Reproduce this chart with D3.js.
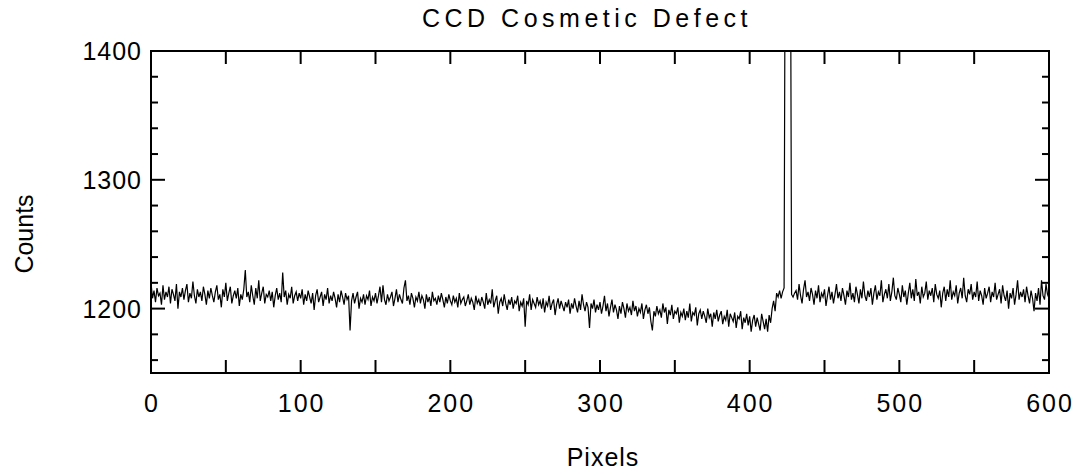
<!DOCTYPE html>
<html>
<head>
<meta charset="utf-8">
<script src="https://cdn.jsdelivr.net/npm/d3@7"></script>
<style>
  body { margin: 0; background: #fff; }
  text { font-family: "Liberation Sans", Arial, sans-serif; fill: #000; }
</style>
</head>
<body>
<svg id="chart" width="1081" height="470"></svg>
<script>
// counts per pixel (424-427 is the defect, off the top)
const counts = [
  1220,1208,1214,1205,1216,1210,1212,1203,1218,1207,1213,1209,1217,1204,1215,1211,1206,1219,1200,1213,
  1209,1216,1207,1214,1219,1205,1212,1208,1221,1210,1204,1215,1209,1213,1206,1217,1211,1203,1214,1208,
  1216,1210,1205,1213,1218,1207,1211,1201,1215,1209,1220,1206,1212,1217,1204,1210,1214,1208,1216,1202,
  1211,1207,1215,1230,1209,1213,1205,1218,1210,1203,1216,1208,1222,1206,1212,1217,1204,1211,1209,1214,
  1206,1213,1201,1210,1216,1207,1212,1205,1228,1209,1214,1203,1211,1208,1217,1204,1210,1213,1206,1212,
  1208,1215,1203,1211,1206,1214,1209,1204,1212,1199,1210,1215,1205,1209,1213,1202,1211,1207,1216,1204,
  1210,1206,1213,1208,1201,1211,1205,1214,1209,1203,1212,1207,1210,1183,1206,1212,1204,1209,1213,1200,
  1208,1205,1211,1203,1210,1207,1214,1202,1209,1206,1212,1204,1210,1217,1205,1218,1207,1203,1211,1206,
  1209,1213,1202,1208,1215,1205,1211,1207,1204,1216,1222,1206,1210,1203,1212,1208,1201,1209,1206,1213,
  1204,1210,1207,1200,1211,1205,1209,1202,1213,1206,1208,1203,1210,1205,1212,1207,1201,1209,1204,1211,
  1206,1203,1210,1205,1208,1201,1212,1204,1207,1209,1202,1206,1211,1203,1208,1205,1199,1210,1204,1207,
  1202,1209,1205,1200,1212,1203,1207,1204,1215,1201,1206,1210,1196,1205,1208,1202,1211,1204,1199,1207,
  1203,1209,1200,1206,1204,1210,1198,1205,1202,1208,1186,1206,1203,1211,1199,1207,1204,1201,1209,1203,
  1206,1200,1208,1197,1205,1202,1210,1199,1204,1207,1195,1203,1208,1200,1206,1202,1198,1205,1201,1207,
  1196,1204,1200,1208,1202,1197,1206,1199,1211,1203,1198,1205,1201,1185,1204,1200,1207,1197,1203,1199,
  1205,1196,1202,1210,1198,1204,1194,1201,1207,1197,1203,1199,1192,1202,1196,1205,1200,1193,1204,1198,
  1201,1195,1206,1198,1202,1194,1200,1197,1204,1192,1199,1203,1196,1201,1190,1183,1198,1194,1202,1196,
  1199,1193,1204,1197,1201,1188,1199,1195,1203,1192,1198,1196,1201,1189,1197,1194,1200,1191,1198,1193,
  1204,1190,1197,1195,1201,1187,1196,1199,1192,1198,1194,1189,1200,1193,1196,1186,1197,1192,1199,1190,
  1195,1198,1188,1194,1191,1199,1186,1196,1193,1190,1197,1185,1194,1192,1198,1184,1193,1189,1196,1187,
  1194,1182,1191,1195,1186,1193,1188,1183,1196,1190,1184,1192,1182,1195,1189,1200,1206,1198,1212,1209,
  1214,1208,1213,1216,1600,1700,1700,1600,1211,1209,1212,1214,1207,1219,1210,1204,1215,1222,1209,1213,
  1206,1216,1211,1203,1214,1208,1218,1205,1212,1209,1215,1202,1210,1217,1207,1213,1204,1211,1219,1208,
  1213,1206,1216,1210,1203,1214,1209,1220,1207,1212,1205,1217,1211,1204,1215,1208,1221,1210,1206,1214,
  1209,1216,1203,1212,1218,1207,1213,1210,1222,1205,1211,1215,1208,1219,1206,1213,1224,1210,1207,1216,
  1211,1205,1218,1209,1214,1203,1212,1220,1208,1215,1206,1223,1210,1213,1204,1217,1209,1212,1221,1207,
  1214,1210,1216,1205,1219,1211,1208,1214,1201,1212,1217,1206,1215,1209,1222,1207,1213,1210,1218,1204,
  1212,1216,1208,1224,1210,1205,1215,1211,1219,1207,1213,1209,1221,1206,1214,1210,1203,1216,1208,1212,
  1217,1205,1213,1209,1220,1207,1211,1215,1204,1218,1210,1206,1214,1200,1212,1208,1216,1203,1211,1222,
  1207,1213,1209,1215,1205,1217,1210,1204,1214,1208,1198,1212,1206,1216,1203,1222,1210,1207,1219,1211,
  1208
];
const xMajor = [0, 100, 200, 300, 400, 500, 600];
const xMinor = [50, 150, 250, 350, 450, 550];
const yMajor = [1200, 1300, 1400];
const yMinor = [1160, 1180, 1220, 1240, 1260, 1280, 1320, 1340, 1360, 1380];

const plotL = 151, plotR = 1049, plotT = 51, plotB = 373;
const svg = d3.select("#chart");

const x = d3.scaleLinear().domain([0, 600]).range([plotL, plotR]);
const y = d3.scaleLinear().domain([1150, 1400]).range([plotB, plotT]);

svg.append("clipPath").attr("id", "plotclip")
  .append("rect").attr("x", plotL).attr("y", plotT)
  .attr("width", plotR - plotL).attr("height", plotB - plotT);

const line = d3.line().x((d, i) => x(i)).y(d => y(d));
svg.append("path")
  .datum(counts)
  .attr("clip-path", "url(#plotclip)")
  .attr("fill", "none")
  .attr("stroke", "#000")
  .attr("stroke-width", 1.2)
  .attr("d", line);

// ticks, inward on all four sides
const g = svg.append("g").attr("stroke", "#000").attr("stroke-width", 2);
function xTicks(vals, len) {
  vals.forEach(v => {
    g.append("line").attr("x1", x(v)).attr("x2", x(v)).attr("y1", plotB).attr("y2", plotB - len);
    g.append("line").attr("x1", x(v)).attr("x2", x(v)).attr("y1", plotT).attr("y2", plotT + len);
  });
}
function yTicks(vals, len) {
  vals.forEach(v => {
    g.append("line").attr("y1", y(v)).attr("y2", y(v)).attr("x1", plotL).attr("x2", plotL + len);
    g.append("line").attr("y1", y(v)).attr("y2", y(v)).attr("x1", plotR).attr("x2", plotR - len);
  });
}
xTicks(xMajor, 13);
xTicks(xMinor, 13);
yTicks(yMajor, 14);
yTicks(yMinor, 7);

svg.append("rect")
  .attr("x", plotL).attr("y", plotT)
  .attr("width", plotR - plotL).attr("height", plotB - plotT)
  .attr("fill", "none").attr("stroke", "#000").attr("stroke-width", 2);

svg.selectAll(".xlab").data(xMajor).enter().append("text")
  .attr("x", d => x(d) + 1).attr("y", 412)
  .attr("text-anchor", "middle").style("font-size", "25px")
  .style("letter-spacing", "2px")
  .text(d => d);

svg.selectAll(".ylab").data(yMajor).enter().append("text")
  .attr("x", 142).attr("y", d => y(d) + 9)
  .attr("text-anchor", "end").style("font-size", "25px")
  .style("letter-spacing", "1px")
  .text(d => d);

svg.append("text")
  .attr("x", 587).attr("y", 27)
  .attr("text-anchor", "middle").style("font-size", "25px")
  .style("letter-spacing", "4.5px")
  .text("CCD Cosmetic Defect");

svg.append("text")
  .attr("x", 603).attr("y", 466)
  .attr("text-anchor", "middle").style("font-size", "25px")
  .style("letter-spacing", "1px")
  .text("Pixels");

svg.append("text")
  .attr("transform", "translate(33,234) rotate(-90)")
  .attr("text-anchor", "middle").style("font-size", "25px")
  .text("Counts");
</script>
</body>
</html>
